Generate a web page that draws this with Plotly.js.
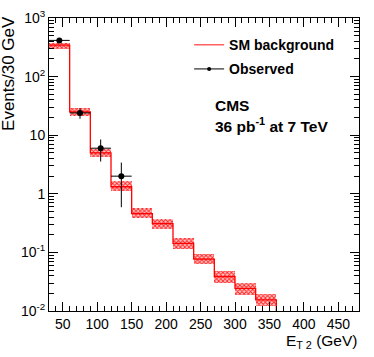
<!DOCTYPE html>
<html>
<head>
<meta charset="utf-8">
<script src="https://cdn.plot.ly/plotly-3.0.1.min.js"></script>
<style>
  html, body { margin: 0; padding: 0; background: #fff; }
  #chart { width: 374px; height: 357px; }
</style>
</head>
<body>
<div id="chart"></div>
<script>
// bins of 30 GeV, lower edges
const binLow = [30, 60, 90, 120, 150, 180, 210, 240, 270, 300, 330];
const binWidth = 30;
// SM background prediction (central) and its uncertainty band
const smBkg   = [345, 25, 5.0, 1.32, 0.46, 0.31, 0.143, 0.077, 0.0385, 0.0244, 0.0155];
const bandLo  = [300, 21.5, 4.2, 1.12, 0.38, 0.251, 0.115, 0.0634, 0.0304, 0.0188, 0.0123];
const bandHi  = [380, 29, 5.75, 1.65, 0.565, 0.367, 0.174, 0.0927, 0.049, 0.0295, 0.0193];
// observed data
const obsX   = [45, 75, 105, 135];
const obsY   = [415, 24, 6, 2];
const obsErr = [20.4, 4.9, 2.45, 1.41];
// y tick labels
const yTickVals = [0.01, 0.1, 1, 10, 100, 1000];
const yTickText = ["10<sup>-2</sup>", "10<sup>-1</sup>", "1", "10", "10<sup>2</sup>", "10<sup>3</sup>"];

const FONT = { family: "Liberation Sans, Arial, sans-serif", color: "#000" };

// step outline built from bin edges
const lastEdge = binLow[binLow.length - 1] + binWidth;
const stepX = binLow.concat([lastEdge, lastEdge]);
const stepY = smBkg.concat([smBkg[smBkg.length - 1], 1e-4]);

const traces = [
  {
    type: "bar",
    x: binLow.map((b) => b + binWidth / 2),
    base: bandLo,
    y: bandHi.map((h, i) => h - bandLo[i]),
    width: binWidth,
    marker: {
      color: "rgba(255,120,120,0.9)",
      line: { width: 0 },
      pattern: { shape: "x", fgcolor: "#ff2020", bgcolor: "#ffc8c8", size: 3, solidity: 0.5 },
    },
    showlegend: false,
    hoverinfo: "skip",
  },
  {
    type: "scatter",
    mode: "lines",
    x: stepX,
    y: stepY,
    line: { shape: "hv", color: "#ff0000", width: 1.3 },
    showlegend: false,
  },
  {
    type: "scatter",
    mode: "lines",
    x: [null],
    y: [null],
    line: { color: "#ff6060", width: 1.5 },
    name: "<b>SM background</b>",
    legendgroup: "a",
  },
  {
    type: "scatter",
    mode: "markers",
    x: obsX,
    y: obsY,
    marker: { color: "#000", size: 6 },
    error_y: { type: "data", array: obsErr, color: "#000", thickness: 1, width: 0 },
    error_x: { type: "constant", value: binWidth / 2, color: "#000", thickness: 1, width: 0 },
    showlegend: false,
  },
  {
    type: "scatter",
    mode: "lines+markers",
    x: [null],
    y: [null],
    line: { color: "#000", width: 1 },
    marker: { color: "#000", size: 4 },
    name: "<b>Observed</b>",
    legendgroup: "b",
  },
];

const layout = {
  width: 374,
  height: 357,
  margin: { l: 49, r: 15, t: 18, b: 46 },
  paper_bgcolor: "#fff",
  plot_bgcolor: "#fff",
  font: { ...FONT, size: 14 },
  bargap: 0,
  showlegend: true,
  legend: {
    x: 0.452, y: 0.962, xanchor: "left", yanchor: "top",
    bgcolor: "rgba(0,0,0,0)",
    font: { ...FONT, size: 14 },
    itemwidth: 30,
    tracegroupgap: 3,
  },
  xaxis: {
    range: [30, 480],
    tickvals: [50, 100, 150, 200, 250, 300, 350, 400, 450],
    ticks: "inside",
    ticklen: 9,
    tickcolor: "#000",
    showline: true,
    linecolor: "#000",
    linewidth: 1,
    mirror: "ticks",
    showgrid: false,
    zeroline: false,
    tickfont: { ...FONT, size: 14 },
    minor: { dtick: 10, tick0: 0, ticks: "inside", ticklen: 5, tickcolor: "#000", showgrid: false },
  },
  yaxis: {
    type: "log",
    range: [-2, 3],
    tickvals: yTickVals,
    ticktext: yTickText,
    ticks: "inside",
    ticklen: 9,
    tickcolor: "#000",
    showline: true,
    linecolor: "#000",
    linewidth: 1,
    mirror: "ticks",
    showgrid: false,
    zeroline: false,
    tickfont: { ...FONT, size: 14 },
    minor: { dtick: "D1", ticks: "inside", ticklen: 5, tickcolor: "#000", showgrid: false },
  },
  annotations: [
    {
      text: "Events/30 GeV",
      xref: "paper", yref: "paper",
      x: 0, y: 0.809, xanchor: "center", yanchor: "middle",
      xshift: -40, textangle: -90,
      showarrow: false,
      font: { ...FONT, size: 17 },
    },
    {
      text: "E<sub>T 2</sub> (GeV)",
      xref: "paper", yref: "paper",
      x: 1, y: 0, xanchor: "right", yanchor: "top",
      yshift: -19,
      showarrow: false,
      font: { ...FONT, size: 15.5 },
    },
    {
      text: "<b>CMS</b>",
      xref: "paper", yref: "paper",
      x: 0.529, y: 0.70, xanchor: "left", yanchor: "middle",
      showarrow: false,
      font: { ...FONT, size: 15.5 },
    },
    {
      text: "<b>36 pb<sup>-1</sup> at 7 TeV</b>",
      xref: "paper", yref: "paper",
      x: 0.529, y: 0.635, xanchor: "left", yanchor: "middle",
      showarrow: false,
      font: { ...FONT, size: 15.5 },
    },
  ],
};

Plotly.newPlot("chart", traces, layout, { displayModeBar: false, staticPlot: true });
</script>
</body>
</html>
